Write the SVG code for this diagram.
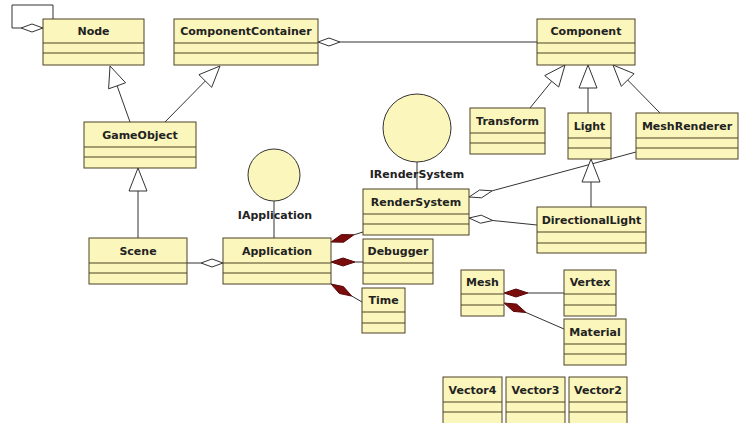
<svg xmlns="http://www.w3.org/2000/svg" width="740" height="423" viewBox="0 0 740 423">
<style>
.box{fill:#fbf6bc;stroke:#4d4324;stroke-width:1}
.sep{stroke:#4d4324;stroke-width:1}
.t{font-family:"DejaVu Sans",Verdana,sans-serif;font-weight:bold;font-size:11px;fill:#222;text-anchor:middle}
.ln{fill:none;stroke:#333;stroke-width:1}
.agg{fill:#fff;stroke:#333;stroke-width:1}
.comp{fill:#7a0c0c;stroke:#5a0808;stroke-width:1}
.gen{fill:#fff;stroke:#333;stroke-width:1}
.ifc{fill:#fbf6bc;stroke:#333;stroke-width:1}
</style>
<rect width="740" height="423" fill="#fff"/>
<g id="connectors">
<!-- Node self aggregation -->
<polyline class="ln" points="21,28 12,28 12,5 53,5 53,19"/>
<polygon class="agg" points="43,28 32,24 21,28 32,32"/>
<!-- ComponentContainer - Component -->
<line class="ln" x1="340" y1="42" x2="537" y2="42"/>
<polygon class="agg" points="318,42 329,38 340,42 329,46"/>
<!-- Scene - Application -->
<line class="ln" x1="187" y1="263" x2="201" y2="263"/>
<polygon class="agg" points="223,263 212,259 201,263 212,267"/>
<!-- RenderSystem - MeshRenderer -->
<line class="ln" x1="492.2" y1="190.8" x2="636" y2="152"/>
<polygon class="agg" points="469,197 481.6,197.8 492.2,190.8 479.6,190"/>
<!-- RenderSystem - DirectionalLight -->
<line class="ln" x1="492.9" y1="220.5" x2="537" y2="225"/>
<polygon class="agg" points="469,218 480.5,223.2 492.9,220.5 481.3,215.2"/>
<!-- Application compositions -->
<line class="ln" x1="353.9" y1="234.8" x2="363" y2="232"/>
<polygon class="comp" points="331,242 343.7,242.2 353.9,234.8 341.3,234.6"/>
<line class="ln" x1="355" y1="262" x2="363" y2="262"/>
<polygon class="comp" points="331,262 343,258 355,262 343,266"/>
<line class="ln" x1="351.8" y1="296.1" x2="362" y2="302"/>
<polygon class="comp" points="331,284 339.4,293.5 351.8,296.1 343.4,286.6"/>
<!-- Mesh compositions -->
<line class="ln" x1="528" y1="293" x2="564" y2="293"/>
<polygon class="comp" points="504,293 516,289 528,293 516,297"/>
<line class="ln" x1="526" y1="312.5" x2="564" y2="329"/>
<polygon class="comp" points="504,303 513.4,311.4 526,312.5 516.6,304.1"/>
<!-- Generalizations -->
<line class="ln" x1="117.1" y1="85.8" x2="130" y2="122"/>
<polygon class="gen" points="110,66 125.6,82.8 108.6,88.8"/>
<line class="ln" x1="205.3" y1="81" x2="165" y2="122"/>
<polygon class="gen" points="220,66 211.7,87.3 198.9,74.7"/>
<line class="ln" x1="138" y1="191" x2="138" y2="238"/>
<polygon class="gen" points="138,168 147,191 129,191"/>
<line class="ln" x1="551.7" y1="81.3" x2="530" y2="108"/>
<polygon class="gen" points="565,65 558.7,87 544.7,75.6"/>
<line class="ln" x1="588" y1="88" x2="588" y2="113"/>
<polygon class="gen" points="588,65 597,88 579,88"/>
<line class="ln" x1="627.7" y1="80" x2="660" y2="113"/>
<polygon class="gen" points="613,65 634.1,73.7 621.3,86.3"/>
<line class="ln" x1="591" y1="182" x2="591" y2="207"/>
<polygon class="gen" points="591,159 600,182 582,182"/>
</g>
<g id="IApplication">
<circle class="ifc" cx="274" cy="175" r="26"/>
<text class="t" x="275" y="219">IApplication</text>
<line class="ln" x1="274" y1="201" x2="274" y2="238"/>
</g>
<g id="IRenderSystem">
<circle class="ifc" cx="417" cy="128" r="34"/>
<text class="t" x="417" y="178">IRenderSystem</text>
<line class="ln" x1="417" y1="162" x2="417" y2="189"/>
</g>
<g id="Node"><rect class="box" x="43" y="19" width="101" height="46"/><line class="sep" x1="43" y1="43" x2="144" y2="43"/><line class="sep" x1="43" y1="53" x2="144" y2="53"/><text class="t" x="93.5" y="35">Node</text></g>
<g id="ComponentContainer"><rect class="box" x="174" y="19" width="144" height="46"/><line class="sep" x1="174" y1="43" x2="318" y2="43"/><line class="sep" x1="174" y1="53" x2="318" y2="53"/><text class="t" x="246" y="35">ComponentContainer</text></g>
<g id="Component"><rect class="box" x="537" y="19" width="98" height="46"/><line class="sep" x1="537" y1="43" x2="635" y2="43"/><line class="sep" x1="537" y1="53" x2="635" y2="53"/><text class="t" x="586" y="35">Component</text></g>
<g id="GameObject"><rect class="box" x="84" y="122" width="112" height="46"/><line class="sep" x1="84" y1="147" x2="196" y2="147"/><line class="sep" x1="84" y1="157" x2="196" y2="157"/><text class="t" x="140" y="138.5">GameObject</text></g>
<g id="Transform"><rect class="box" x="470" y="108" width="75" height="46"/><line class="sep" x1="470" y1="133" x2="545" y2="133"/><line class="sep" x1="470" y1="143" x2="545" y2="143"/><text class="t" x="507.5" y="124.5">Transform</text></g>
<g id="Light"><rect class="box" x="568" y="113" width="43" height="46"/><line class="sep" x1="568" y1="138" x2="611" y2="138"/><line class="sep" x1="568" y1="148" x2="611" y2="148"/><text class="t" x="589.5" y="129.5">Light</text></g>
<g id="MeshRenderer"><rect class="box" x="636" y="113" width="102" height="46"/><line class="sep" x1="636" y1="138" x2="738" y2="138"/><line class="sep" x1="636" y1="148" x2="738" y2="148"/><text class="t" x="687" y="129.5">MeshRenderer</text></g>
<g id="RenderSystem"><rect class="box" x="363" y="189" width="106" height="46"/><line class="sep" x1="363" y1="214" x2="469" y2="214"/><line class="sep" x1="363" y1="224" x2="469" y2="224"/><text class="t" x="416" y="205.5">RenderSystem</text></g>
<g id="DirectionalLight"><rect class="box" x="537" y="207" width="109" height="46"/><line class="sep" x1="537" y1="232" x2="646" y2="232"/><line class="sep" x1="537" y1="243" x2="646" y2="243"/><text class="t" x="591.5" y="223.5">DirectionalLight</text></g>
<g id="Scene"><rect class="box" x="89" y="238" width="98" height="46"/><line class="sep" x1="89" y1="263" x2="187" y2="263"/><line class="sep" x1="89" y1="273" x2="187" y2="273"/><text class="t" x="138" y="254.5">Scene</text></g>
<g id="Application"><rect class="box" x="223" y="238" width="108" height="46"/><line class="sep" x1="223" y1="263" x2="331" y2="263"/><line class="sep" x1="223" y1="273" x2="331" y2="273"/><text class="t" x="277" y="254.5">Application</text></g>
<g id="Debugger"><rect class="box" x="363" y="239" width="70" height="45"/><line class="sep" x1="363" y1="263" x2="433" y2="263"/><line class="sep" x1="363" y1="273" x2="433" y2="273"/><text class="t" x="398" y="255">Debugger</text></g>
<g id="Time"><rect class="box" x="362" y="288" width="43" height="45"/><line class="sep" x1="362" y1="312" x2="405" y2="312"/><line class="sep" x1="362" y1="323" x2="405" y2="323"/><text class="t" x="383.5" y="304">Time</text></g>
<g id="Mesh"><rect class="box" x="461" y="270" width="43" height="46"/><line class="sep" x1="461" y1="294" x2="504" y2="294"/><line class="sep" x1="461" y1="305" x2="504" y2="305"/><text class="t" x="482.5" y="286">Mesh</text></g>
<g id="Vertex"><rect class="box" x="564" y="270" width="52" height="46"/><line class="sep" x1="564" y1="294" x2="616" y2="294"/><line class="sep" x1="564" y1="305" x2="616" y2="305"/><text class="t" x="590" y="286">Vertex</text></g>
<g id="Material"><rect class="box" x="564" y="319" width="62" height="46"/><line class="sep" x1="564" y1="344" x2="626" y2="344"/><line class="sep" x1="564" y1="354" x2="626" y2="354"/><text class="t" x="595" y="335.5">Material</text></g>
<g id="Vector4"><rect class="box" x="443" y="377" width="59" height="50"/><line class="sep" x1="443" y1="402" x2="502" y2="402"/><line class="sep" x1="443" y1="412" x2="502" y2="412"/><text class="t" x="472.5" y="393.5">Vector4</text></g>
<g id="Vector3"><rect class="box" x="506" y="377" width="59" height="50"/><line class="sep" x1="506" y1="402" x2="565" y2="402"/><line class="sep" x1="506" y1="412" x2="565" y2="412"/><text class="t" x="535.5" y="393.5">Vector3</text></g>
<g id="Vector2"><rect class="box" x="569" y="377" width="58" height="50"/><line class="sep" x1="569" y1="402" x2="627" y2="402"/><line class="sep" x1="569" y1="412" x2="627" y2="412"/><text class="t" x="598" y="393.5">Vector2</text></g>
</svg>
